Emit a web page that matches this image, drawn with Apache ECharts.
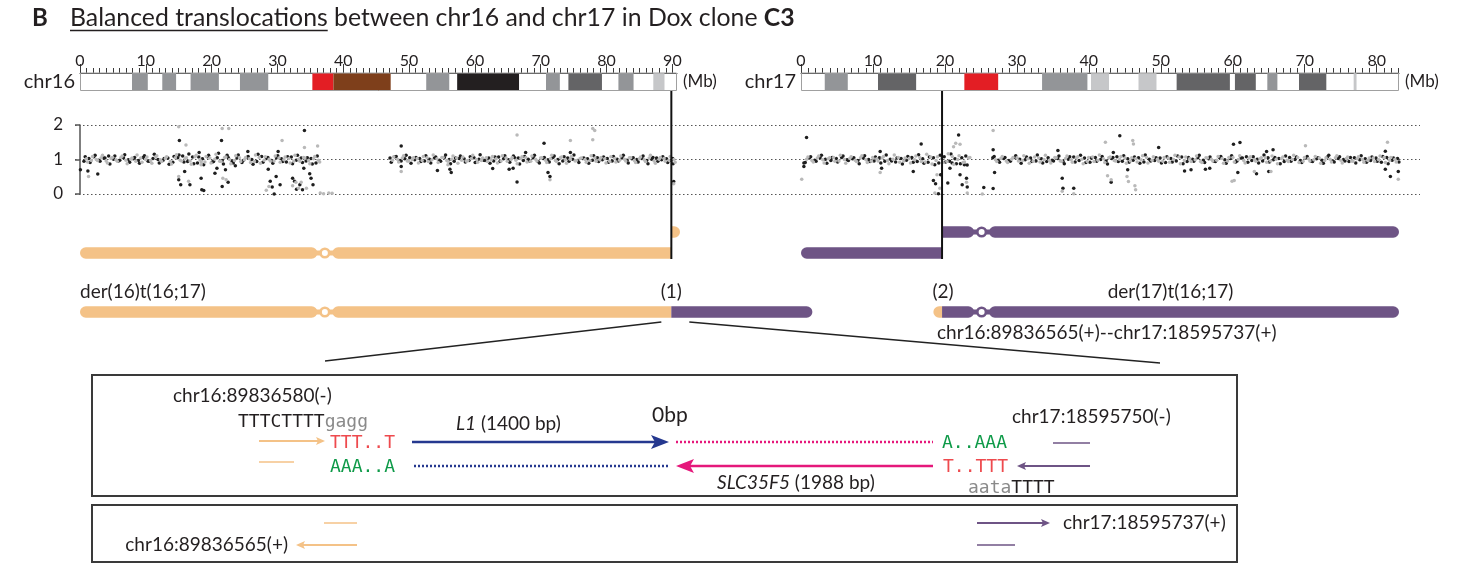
<!DOCTYPE html>
<html><head><meta charset="utf-8">
<script src="https://cdn.jsdelivr.net/npm/echarts@6/dist/echarts.min.js"></script>
<style>html,body{margin:0;padding:0;background:#fff}#c{width:1464px;height:570px}</style>
</head><body><div id="c"></div>
<script>
// ================= DATA =================
const chr16Length = 90.7;     // Mb, drawn ideogram length
const chr17Length = 83.1;
const chr16TickLabels = [0,10,20,30,40,50,60,70,80,90];
const chr17TickLabels = [0,10,20,30,40,50,60,70,80];
const chr16Centromere = 37.2;
const chr17Centromere = 25.1;
const chr16Break = 89.84;
const chr17Break = 19.6;

// cytobands (Mb) and stain
const chr16BandStart = [7.9,12.5,16.8,24.3,35.3,38.5,52.6,57.3,70.8,74.2,81.8,87.1];
const chr16BandEnd   = [10.3,14.6,21.1,28.6,38.5,47.2,56.1,66.7,72.9,79.3,84.1,88.8];
const chr16BandStain = ['gpos50','gpos50','gpos50','gpos50','acen','gvar','gpos50','gpos100','gpos50','gpos75','gpos50','gpos25'];
const chr17BandStart = [3.3,10.7,22.7,33.5,40.3,46.9,52.2,60.3,64.8,69.2,76.8];
const chr17BandEnd   = [6.5,16.0,27.4,39.8,42.8,49.4,59.6,63.2,66.2,73.0,77.2];
const chr17BandStain = ['gpos50','gpos75','acen','gpos50','gpos25','gpos25','gpos75','gpos75','gpos50','gpos75','gpos25'];

// copy-number bins (0.75 Mb steps), two replicates (black / grey), two bin phases each
const binSize = 0.75;
const chr16BlackFirstBin = 0.6;
const chr16Black = [
 0.95,1.03,1.08,0.98,1.04,1.10,1.01,0.96,1.05,0.99,
 1.02,0.97,1.06,0.95,1.03,1.00,0.97,1.04,0.92,1.05,
 1.10,0.94,1.07,0.90,1.02,1.08,0.93,1.05,0.97,1.12,
 0.96,1.04,0.91,1.06,1.00,0.94,1.09,1.03,0.97,1.05,
 1.02,0.93,1.07,0.98,1.04,0.96,1.03,0.90,
 null,null,null,null,null,null,null,null,null,null,null,null,null,null,
 1.04,1.08,0.97,1.02,1.05,0.99,1.03,0.96,1.01,1.04,
 0.98,1.06,1.00,0.95,1.03,1.02,0.97,1.05,1.01,0.98,
 1.04,0.96,1.07,1.02,0.99,1.10,1.04,0.97,1.01,1.05,
 0.94,1.03,0.99,1.06,1.00,0.96,1.04,1.01,0.97,1.03,
 1.02,0.98,1.05,0.99,1.03,0.96,1.01,1.04,0.98,1.02,
 1.00,1.03,0.97,1.01,1.04,0.99,1.02,0.98];
const chr16BlackBFirstBin = 0.79;
const chr16BlackB = [
 1.08,0.91,1.12,0.95,1.04,0.87,1.10,0.98,1.14,0.92,
 1.06,0.89,1.11,0.96,1.15,0.90,1.03,0.86,1.09,1.13,
 0.93,1.16,0.88,1.07,0.85,1.12,0.94,1.18,0.87,1.05,
 0.90,1.13,0.97,1.09,0.86,1.15,0.92,1.06,0.89,1.11,
 0.94,1.08,0.88,1.12,0.91,1.05,0.87,1.10,
 null,null,null,null,null,null,null,null,null,null,null,null,null,null,
 0.92,1.09,0.96,1.12,0.89,1.06,0.94,1.11,0.90,1.07,
 0.95,1.13,0.88,1.04,1.10,0.93,1.08,0.91,1.14,0.97,
 0.89,1.07,0.94,1.11,0.92,1.05,0.87,1.09,0.96,1.12,
 0.90,1.06,0.93,1.10,0.88,1.08,0.95,1.13,0.91,1.04,
 0.89,1.11,0.94,1.07,0.92,1.09,0.96,1.12,0.90,1.05,
 0.93,1.10,0.88,1.06,0.95,1.08,0.91,1.03];
const chr16GreyFirstBin = 0.975;
const chr16Grey = [
 1.02,0.97,1.00,1.05,0.96,1.03,0.99,1.06,0.98,1.01,
 0.95,1.04,1.00,0.97,1.07,0.99,1.03,0.94,1.05,0.98,
 1.03,0.96,1.08,0.99,0.93,1.04,1.01,0.95,1.06,1.00,
 0.97,1.05,0.99,1.02,0.94,1.06,0.98,1.01,0.96,1.04,
 0.99,1.03,0.95,1.01,1.06,0.97,1.02,0.98,
 null,null,null,null,null,null,null,null,null,null,null,null,null,null,
 0.98,1.01,1.04,0.96,1.00,1.03,0.97,1.05,0.99,1.02,
 1.06,0.97,1.01,1.04,0.98,0.95,1.03,1.00,0.97,1.05,
 0.99,1.02,0.96,1.04,1.00,0.98,1.03,1.06,0.95,1.01,
 1.04,0.98,1.02,0.97,1.05,0.99,1.01,0.96,1.03,1.00,
 0.97,1.04,0.99,1.02,0.95,1.03,0.98,1.01,1.05,0.97,
 1.02,0.99,1.04,0.96,1.01,1.03,0.98,1.00];
const chr16GreyBFirstBin = 1.165;
const chr16GreyB = [
 0.93,1.09,0.97,1.12,0.90,1.06,0.95,1.10,0.88,1.04,
 1.13,0.92,1.07,0.89,1.11,0.94,1.08,0.87,1.14,0.96,
 1.05,0.86,1.12,0.93,1.09,0.90,1.15,0.95,1.07,0.88,
 1.11,0.94,1.06,0.91,1.13,0.89,1.08,0.96,1.10,0.92,
 1.07,0.90,1.12,0.95,1.04,0.88,1.09,0.93,
 null,null,null,null,null,null,null,null,null,null,null,null,null,null,
 1.08,0.93,1.11,0.96,1.05,0.90,1.09,0.94,1.13,0.91,
 1.06,0.95,1.10,0.89,1.07,0.97,1.12,0.92,1.04,0.94,
 1.09,0.90,1.11,0.95,1.06,0.88,1.08,0.93,1.10,0.96,
 1.05,0.91,1.12,0.94,1.07,0.89,1.09,0.97,1.04,0.92,
 1.11,0.95,1.06,0.90,1.08,0.93,1.10,0.96,1.05,0.91,
 1.07,0.94,1.12,0.89,1.06,0.95,1.09,0.92];
const chr17BlackFirstBin = 0.4;
const chr17Black = [
 0.90,1.04,0.98,1.05,1.01,0.97,1.03,1.06,0.99,1.02,
 0.97,1.04,1.00,0.96,1.05,0.95,1.01,0.93,1.03,0.98,
 1.06,0.94,1.02,0.92,1.05,0.90,1.08,0.95,1.02,0.88,1.10,
 null,null,null,null,
 1.05,0.98,1.03,0.97,1.06,1.01,0.99,1.04,0.96,1.02,
 0.94,0.98,1.03,0.95,1.01,1.07,0.97,1.04,0.92,1.06,
 1.00,0.96,1.03,1.08,0.95,1.02,0.98,1.05,0.93,1.01,
 0.97,1.04,0.91,1.03,0.96,1.07,0.94,1.01,1.05,0.98,
 1.02,0.95,1.06,0.99,1.03,0.93,1.04,1.08,0.97,1.01,
 0.96,1.05,0.99,1.03,0.94,1.06,1.00,0.97,1.04,0.95,
 1.02,0.98,1.07,0.96,1.03,1.00,0.94,1.05,0.99,1.02,
 0.97,1.04,0.92,1.06,0.98,1.03];
const chr17BlackBFirstBin = 0.59;
const chr17BlackB = [
 0.91,1.08,0.95,1.12,0.89,1.06,0.93,1.10,0.97,1.05,
 0.88,1.11,0.94,1.07,0.90,1.13,0.96,1.04,0.87,1.09,
 0.92,1.14,0.89,1.07,0.85,1.12,0.93,1.16,0.88,1.05,0.84,
 null,null,null,null,
 1.09,0.92,1.06,0.95,1.11,0.89,1.07,0.94,1.13,0.90,
 1.05,0.96,1.10,0.88,1.08,0.93,1.12,0.91,1.04,0.95,
 1.09,0.87,1.06,0.94,1.11,0.92,1.07,0.89,1.13,0.96,
 1.05,0.90,1.08,0.93,1.10,0.88,1.06,0.95,1.12,0.91,
 1.07,0.94,1.09,0.89,1.11,0.96,1.04,0.92,1.08,0.90,
 1.13,0.93,1.06,0.88,1.10,0.95,1.07,0.91,1.09,0.94,
 1.05,0.89,1.12,0.93,1.08,0.96,1.06,0.90,1.11,0.92,
 1.07,0.95,1.09,0.88,1.04,0.93];
const chr17GreyFirstBin = 0.775;
const chr17Grey = [
 1.01,0.97,1.04,0.99,1.02,1.06,0.96,1.00,1.03,0.98,
 1.05,0.99,0.95,1.02,1.04,0.97,1.01,1.06,0.96,1.03,
 0.99,1.05,0.93,1.07,0.97,1.02,0.94,1.09,1.00,0.91,1.04,
 null,null,null,null,
 0.99,1.03,0.96,1.01,1.05,0.97,1.02,0.95,1.04,1.00,
 0.98,1.06,0.96,1.03,0.99,1.05,1.01,0.94,1.07,0.98,
 1.02,1.05,0.97,1.00,1.04,0.96,1.03,0.99,1.06,0.98,
 1.01,0.95,1.04,1.00,1.07,0.97,1.02,0.99,0.94,1.05,
 1.01,0.98,1.03,0.96,1.06,1.00,0.97,1.04,0.99,1.02,
 1.05,0.96,1.01,1.03,0.98,1.00,1.06,0.95,1.02,0.99,
 1.04,0.97,1.01,1.05,0.98,1.03,0.96,1.02,1.00,0.97,
 1.04,0.99,1.06,0.98,1.01];
const chr17GreyBFirstBin = 0.965;
const chr17GreyB = [
 1.07,0.93,1.10,0.90,1.05,0.95,1.12,0.89,1.08,0.94,
 1.11,0.91,1.06,0.96,1.09,0.88,1.13,0.92,1.04,0.90,
 1.10,0.94,1.15,0.87,1.08,0.92,1.17,0.86,1.11,0.93,1.06,
 null,null,null,null,
 0.94,1.09,0.91,1.06,0.96,1.11,0.89,1.07,0.93,1.12,
 0.90,1.05,0.95,1.10,0.92,1.08,0.88,1.06,0.94,1.13,
 0.91,1.07,0.96,1.09,0.89,1.05,0.93,1.11,0.90,1.08,
 0.95,1.06,0.92,1.12,0.88,1.07,0.94,1.10,0.91,1.04,
 0.96,1.09,0.89,1.06,0.93,1.11,0.90,1.08,0.95,1.05,
 0.92,1.10,0.88,1.07,0.94,1.12,0.91,1.06,0.96,1.09,
 0.89,1.05,0.93,1.11,0.90,1.07,0.95,1.08,0.92,1.04,
 0.94,1.10,0.91,1.06,0.93];

// individual outlying bins [Mb, copy ratio]
const chr16BlackOut = [[0.06,0.70],[1.2,0.67],[2.7,0.58],[15.1,1.55],[15.0,0.41],[15.3,0.27],[15.9,0.65],[16.7,0.27],
 [18.1,1.2],[18.4,0.46],[18.5,0.12],[18.8,0.10],[20.5,0.6],[20.8,0.75],[21.5,1.55],[21.6,0.22],[22.1,0.70],[22.5,0.34],
 [23.6,0.82],[25.5,1.23],[28.6,0.72],[28.9,0.37],[29.2,0.2],[29.5,0.0],[29.8,0.51],[30.1,1.23],[30.4,0.27],
 [32.3,0.46],[32.6,0.37],[32.9,0.14],[33.4,0.27],[33.8,0.12],[34.0,0.75],[34.1,1.84],[34.9,0.59],[35.1,0.46],[35.4,0.27],
 [48.8,1.39],[48.8,0.80],[54.3,0.68],[56.2,0.72],[56.4,0.62],[62.7,0.74],[65.2,0.72],[65.8,0.75],[66.4,0.35],[67.7,1.2],
 [70.5,1.47],[71.1,0.62],[71.4,0.51],[74.5,1.2],[90.1,0.88],[90.2,0.36]];
const chr16GreyOut = [[1.3,0.51],[15.0,1.95],[16.1,1.42],[15.0,0.51],[16.5,0.37],[18.4,0.85],[21.6,1.9],[22.6,1.9],
 [21.7,0.46],[22.2,0.41],[28.3,0.11],[28.7,0.22],[30.7,1.55],[32.3,0.24],[32.8,0.34],[33.2,0.17],[33.6,0.34],[34.1,1.35],
 [34.4,0.17],[36.1,1.39],[36.5,0.03],[37.0,0.01],[37.8,0.03],[38.3,0.02],[48.8,0.65],[55.9,0.85],[66.4,1.71],[71.4,0.41],
 [74.5,1.55],[77.9,1.9],[78.2,1.84],[77.9,1.57],[90.2,0.3]];
const chr17BlackOut = [[0.77,1.64],[0.4,0.8],[11.0,1.23],[11.2,0.75],[15.6,0.65],[16.7,1.45],[18.4,0.39],[18.7,0.3],
 [19.1,0.01],[19.4,0.56],[20.4,0.32],[20.7,0.75],[21.0,0.9],[21.9,1.71],[22.1,0.56],[22.4,0.27],[22.7,0.85],[23.0,0.46],
 [23.1,0.2],[25.4,0.19],[26.7,0.16],[26.7,1.28],[26.9,0.62],[36.3,0.46],[36.4,0.17],[37.9,0.17],[35.7,1.26],[43.1,0.34],
 [44.3,1.69],[45.4,0.7],[43.4,1.2],[49.7,1.35],[53.3,0.67],[54.2,0.7],[56.2,0.72],[56.8,0.75],[60.1,1.44],[61.0,1.49],
 [60.7,0.62],[63.3,0.59],[64.7,1.23],[65.6,1.28],[65.0,0.65],[81.2,1.24],[81.2,0.72],[81.9,0.51],[83.0,0.65]];
const chr17GreyOut = [[0.1,0.43],[11.0,0.62],[18.6,0.03],[18.9,0.56],[19.3,0.17],[21.2,1.37],[21.5,1.47],[22.1,1.44],
 [23.0,0.34],[23.1,0.03],[25.2,0.0],[26.7,1.84],[36.3,0.08],[37.9,0.01],[42.3,1.5],[42.6,0.53],[43.1,0.41],[45.3,0.51],
 [45.5,0.36],[46.1,1.55],[46.2,1.45],[46.4,0.24],[46.5,0.12],[59.9,0.37],[63.0,0.65],[65.3,0.65],[70.1,1.4],[60.2,0.39],
 [81.5,1.5],[83.0,0.43]];

// ================= STYLE =================
const stainColor = {gpos25:'#c6c7c9', gpos50:'#939598', gpos75:'#646466', gpos100:'#231f20', acen:'#e31e24', gvar:'#7e3f1b'};
const ORANGE = '#F4C287', PURPLE = '#6E5485', BLUE = '#25388F', MAGENTA = '#E5187B',
      SEQRED = '#EE4A4E', SEQGREEN = '#0E9A48', SEQGREY = '#8a8a8a', TXT = '#231f20';
const BLACKPT = '#1e1e1e', GREYPT = '#b9b9b9';
const FONT = 'Lato';
const MONO = 'DejaVu Sans Mono';
const FS = 19;

function binned(first, vals) {
  const out = [];
  vals.forEach((v, i) => { if (v != null) out.push([+(first + i * binSize).toFixed(3), v]); });
  return out;
}
function minorTicks(len) { const a = []; for (let v = 0; v <= len; v++) a.push(v); return a; }

function rulerAxes(gridIndex, len, labels) {
  return [
    {type:'value', gridIndex, min:0, max:len, show:false},
    {type:'value', gridIndex, min:0, max:len, position:'top',
     axisLine:{show:true, lineStyle:{color:'#3a3a3a', width:1}},
     axisTick:{show:true, customValues:labels, length:9, lineStyle:{color:'#3a3a3a', width:1}},
     axisLabel:{show:true, customValues:labels, margin:4, fontSize:16, fontFamily:FONT, color:TXT},
     splitLine:{show:false}},
    {type:'value', gridIndex, min:0, max:len, position:'top',
     axisLine:{show:false},
     axisTick:{show:true, customValues:minorTicks(len), length:5, lineStyle:{color:'#3a3a3a', width:1}},
     axisLabel:{show:false}, splitLine:{show:false}}
  ];
}

function bandSeries(xi, yi, starts, ends, stains) {
  return {
    type:'custom', xAxisIndex:xi, yAxisIndex:yi, z:2, silent:true,
    data: starts.map((s, i) => [s, ends[i]]),
    renderItem: (params, api) => {
      const p0 = api.coord([api.value(0), 1]);
      const p1 = api.coord([api.value(1), 0]);
      return {type:'rect', shape:{x:p0[0], y:p0[1], width:p1[0]-p0[0], height:p1[1]-p0[1]},
              style:{fill: stainColor[stains[params.dataIndex]]}};
    }
  };
}
function outlineSeries(xi, yi, len) {
  return {
    type:'custom', xAxisIndex:xi, yAxisIndex:yi, z:3, silent:true,
    data:[[0, len]],
    renderItem: (params, api) => {
      const p0 = api.coord([0, 1]);
      const p1 = api.coord([len, 0]);
      return {type:'rect', shape:{x:p0[0]+0.5, y:p0[1], width:p1[0]-p0[0]-1, height:p1[1]-p0[1]-0.5},
              style:{fill:null, stroke:'#a0a0a0', lineWidth:1}};
    }
  };
}
function scatter(xi, yi, data, color) {
  return {type:'scatter', xAxisIndex:xi, yAxisIndex:yi, data, symbolSize:3.5, silent:true,
          itemStyle:{color, opacity:1}, z:5};
}

const option = {
  animation:false,
  backgroundColor:'#fff',
  grid:[
    {left:80, top:73, width:597, height:18},
    {left:801, top:73, width:598, height:18},
    {left:80, top:125, width:597, height:69},
    {left:801, top:125, width:598, height:69},
    {left:75, top:125, width:1345, height:69}
  ],
  xAxis:[
    ...rulerAxes(0, chr16Length, chr16TickLabels),
    ...rulerAxes(1, chr17Length, chr17TickLabels),
    {type:'value', gridIndex:2, min:0, max:chr16Length, show:false},
    {type:'value', gridIndex:3, min:0, max:chr17Length, show:false},
    {type:'value', gridIndex:4, min:0, max:1, show:false}
  ],
  yAxis:[
    {type:'value', gridIndex:0, min:0, max:1, show:false},
    {type:'value', gridIndex:1, min:0, max:1, show:false},
    {type:'value', gridIndex:2, min:0, max:2, interval:1, offset:7,
     axisLine:{show:true, lineStyle:{color:'#555', width:1.5}},
     axisTick:{show:true, length:5, lineStyle:{color:'#555', width:1.5}},
     axisLabel:{fontSize:17, margin:10, color:TXT, fontFamily:FONT},
     splitLine:{show:false}},
    {type:'value', gridIndex:3, min:0, max:2, show:false},
    {type:'value', gridIndex:4, min:0, max:2, interval:1,
     axisLine:{show:false}, axisTick:{show:false}, axisLabel:{show:false},
     splitLine:{show:true, lineStyle:{type:[1.5,2.5], color:'#555', width:1}}}
  ],
  series:[
    bandSeries(0, 0, chr16BandStart, chr16BandEnd, chr16BandStain),
    outlineSeries(0, 0, chr16Length),
    bandSeries(3, 1, chr17BandStart, chr17BandEnd, chr17BandStain),
    outlineSeries(3, 1, chr17Length),
    scatter(6, 2, binned(chr16BlackFirstBin, chr16Black).concat(chr16BlackOut), BLACKPT),
    scatter(6, 2, binned(chr16BlackBFirstBin, chr16BlackB), BLACKPT),
    scatter(6, 2, binned(chr16GreyFirstBin, chr16Grey).concat(chr16GreyOut), GREYPT),
    scatter(6, 2, binned(chr16GreyBFirstBin, chr16GreyB), GREYPT),
    scatter(7, 3, binned(chr17BlackFirstBin, chr17Black).concat(chr17BlackOut), BLACKPT),
    scatter(7, 3, binned(chr17BlackBFirstBin, chr17BlackB), BLACKPT),
    scatter(7, 3, binned(chr17GreyFirstBin, chr17Grey).concat(chr17GreyOut), GREYPT),
    scatter(7, 3, binned(chr17GreyBFirstBin, chr17GreyB), GREYPT)
  ]
};

const chart = echarts.init(document.getElementById('c'), null, {renderer:'canvas'});
chart.setOption(option);

// ================= SCHEMATIC (layout graphics) =================
const x16 = v => chart.convertToPixel({xAxisIndex:0}, v);
const x17 = v => chart.convertToPixel({xAxisIndex:3}, v);
const s16 = x16(0), e16 = x16(chr16Length), c16 = x16(chr16Centromere), b16 = x16(chr16Break);
const s17 = x17(0), e17 = x17(chr17Length), c17 = x17(chr17Centromere), b17 = x17(chr17Break);

const measure = (() => { const ctx = document.createElement('canvas').getContext('2d');
  return (t, f) => { ctx.font = f; return ctx.measureText(t).width; }; })();

const G = [];
const H = 11.5, R = H / 2;
function pill(x1, x2, y, color, rl, rr) {
  G.push({type:'rect', z:10, shape:{x:x1, y:y-R, width:x2-x1, height:H, r:[rl?R:0, rr?R:0, rr?R:0, rl?R:0]}, style:{fill:color}});
}
function withCentromere(x1, cx, x2, y, color, rl, rr) {
  pill(x1, cx-7.5, y, color, rl, true);
  pill(cx+7.5, x2, y, color, true, rr);
  G.push({type:'rect', z:10, shape:{x:cx-9, y:y-2.5, width:18, height:5}, style:{fill:color}});
  G.push({type:'circle', z:11, shape:{cx, cy:y, r:4.3}, style:{fill:'#fff', stroke:color, lineWidth:2.6}});
}
function text(x, y, t, opt) {
  opt = opt || {};
  G.push({type:'text', z:20, x, y, style:Object.assign({text:t, fontFamily:FONT, fontSize:FS, fill:TXT,
    align:'left', verticalAlign:'middle'}, opt)});
}
function line(x1, y1, x2, y2, color, lw, dash) {
  G.push({type:'line', z:12, shape:{x1, y1, x2, y2}, style:{stroke:color, lineWidth:lw, lineDash:dash||null}});
}
function arrow(x1, x2, y, color, lw, hl, hw) {
  const d = x2 > x1 ? 1 : -1, base = x2 - d * hl;
  line(x1, y, base + d * hl * 0.3, y, color, lw);
  G.push({type:'polygon', z:13, shape:{points:[[x2, y], [base, y - hw/2], [base + d*hl*0.22, y], [base, y + hw/2]]}, style:{fill:color}});
}

// title
text(32, 18, 'B', {fontSize:24, fontWeight:'bold'});
const tParts = ['Balanced translocations', ' between chr16 and chr17 in Dox clone ', 'C3'];
const tw0 = measure(tParts[0] + tParts[1], `22px ${FONT}`) + measure(tParts[2], `bold 22px ${FONT}`);
const tfs = 22 * 725 / tw0;
text(70, 18, `{n|${tParts[0]}${tParts[1]}}{b|${tParts[2]}}`, {fontSize:tfs,
  rich:{n:{fontSize:tfs, fontFamily:FONT, fill:TXT}, b:{fontSize:tfs, fontFamily:FONT, fontWeight:'bold', fill:TXT}}});
const uw = measure(tParts[0], `${tfs}px ${FONT}`);
line(70, 30.5, 70 + uw, 30.5, TXT, 1.3);

// chromosome names
text(s16 - 5, 82, 'chr16', {fontSize:20, align:'right'});
text(e16 + 6, 82, '(Mb)', {fontSize:17});
text(s17 - 5, 82, 'chr17', {fontSize:20, align:'right'});
text(e17 + 6, 82, '(Mb)', {fontSize:17});

// breakpoint lines
line(b16, 91, b16, 259, '#111', 2);
line(b17, 91, b17, 259, '#111', 2);

// normal chromosomes
const yUp = 232, yLow = 253, yDer = 312;
withCentromere(s16, c16, b16, yLow, ORANGE, true, false);
pill(b16, e16 + 3, yUp, ORANGE, false, true);
pill(s17, b17, yLow, PURPLE, true, false);
withCentromere(b17, c17, e17, yUp, PURPLE, false, true);
// derivatives
withCentromere(s16, c16, b16, yDer, ORANGE, true, false);
pill(b16, b16 + (b17 - s17), yDer, PURPLE, false, true);
pill(b17 - (e16 + 3 - b16), b17, yDer, ORANGE, true, false);
withCentromere(b17, c17, e17, yDer, PURPLE, false, true);

text(s16, 292, 'der(16)t(16;17)');
text(b16, 292, '(1)', {align:'center'});
text(b17 + 1, 292, '(2)', {align:'center'});
text((b17 + e17) / 2, 292, 'der(17)t(16;17)', {align:'center'});
text(937, 333, 'chr16:89836565(+)--chr17:18595737(+)');

// zoom lines
line(b16 - 10, 322, 325, 361, '#222', 1.5);
line(b16 + 18, 322, 1160, 363, '#222', 1.5);

// boxes
const boxL = 92, boxR = 1237;
G.push({type:'rect', z:9, shape:{x:boxL, y:375, width:boxR-boxL, height:121}, style:{fill:null, stroke:'#3a3a3a', lineWidth:2}});
G.push({type:'rect', z:9, shape:{x:boxL, y:505, width:boxR-boxL, height:57}, style:{fill:null, stroke:'#3a3a3a', lineWidth:2}});

// box 1
const mono = {fontFamily:MONO, fontSize:18};
text(173, 396, 'chr16:89836580(-)');
text(238, 422, '{k|TTTCTTTT}{g|gagg}', Object.assign({}, mono, {rich:{k:Object.assign({fill:TXT}, mono), g:Object.assign({fill:SEQGREY}, mono)}}));
arrow(259, 325, 441, ORANGE, 2, 9, 8);
text(330, 443, 'TTT..T', Object.assign({fill:SEQRED}, mono));
line(259, 462, 294, 462, ORANGE, 1.5);
text(330, 467, 'AAA..A', Object.assign({fill:SEQGREEN}, mono));
arrow(412, 669, 442, BLUE, 2.5, 18, 14);
text(456, 424, '{i|L1} (1400 bp)', {rich:{i:{fontStyle:'italic', fontFamily:FONT, fontSize:FS, fill:TXT}}});
text(652, 415, '0bp', {fontSize:21});
line(676, 442, 933, 442, MAGENTA, 2.5, [2, 2]);
text(942, 443, 'A..AAA', Object.assign({fill:SEQGREEN}, mono));
line(1053, 443, 1090, 443, PURPLE, 1.5);
text(1012, 417, 'chr17:18595750(-)');
line(414, 466, 669, 466, BLUE, 2.5, [2, 2]);
arrow(933, 676, 466, MAGENTA, 2.5, 18, 14);
text(943, 467, 'T..TTT', Object.assign({fill:SEQRED}, mono));
arrow(1090, 1017, 466, PURPLE, 2, 9, 8);
text(717, 483, '{i|SLC35F5} (1988 bp)', {rich:{i:{fontStyle:'italic', fontFamily:FONT, fontSize:FS, fill:TXT}}});
text(968, 488, '{g|aata}{k|TTTT}', Object.assign({}, mono, {rich:{k:Object.assign({fill:TXT}, mono), g:Object.assign({fill:SEQGREY}, mono)}}));

// box 2
line(324, 523, 357, 523, ORANGE, 1.5);
text(288, 545, 'chr16:89836565(+)', {align:'right'});
arrow(357, 296, 545, ORANGE, 2, 9, 8);
arrow(977, 1050, 523, PURPLE, 2, 9, 8);
text(1063, 523, 'chr17:18595737(+)');
line(977, 545, 1015, 545, PURPLE, 1.5);

chart.setOption({graphic:{elements:G}});
</script>
</body></html>
